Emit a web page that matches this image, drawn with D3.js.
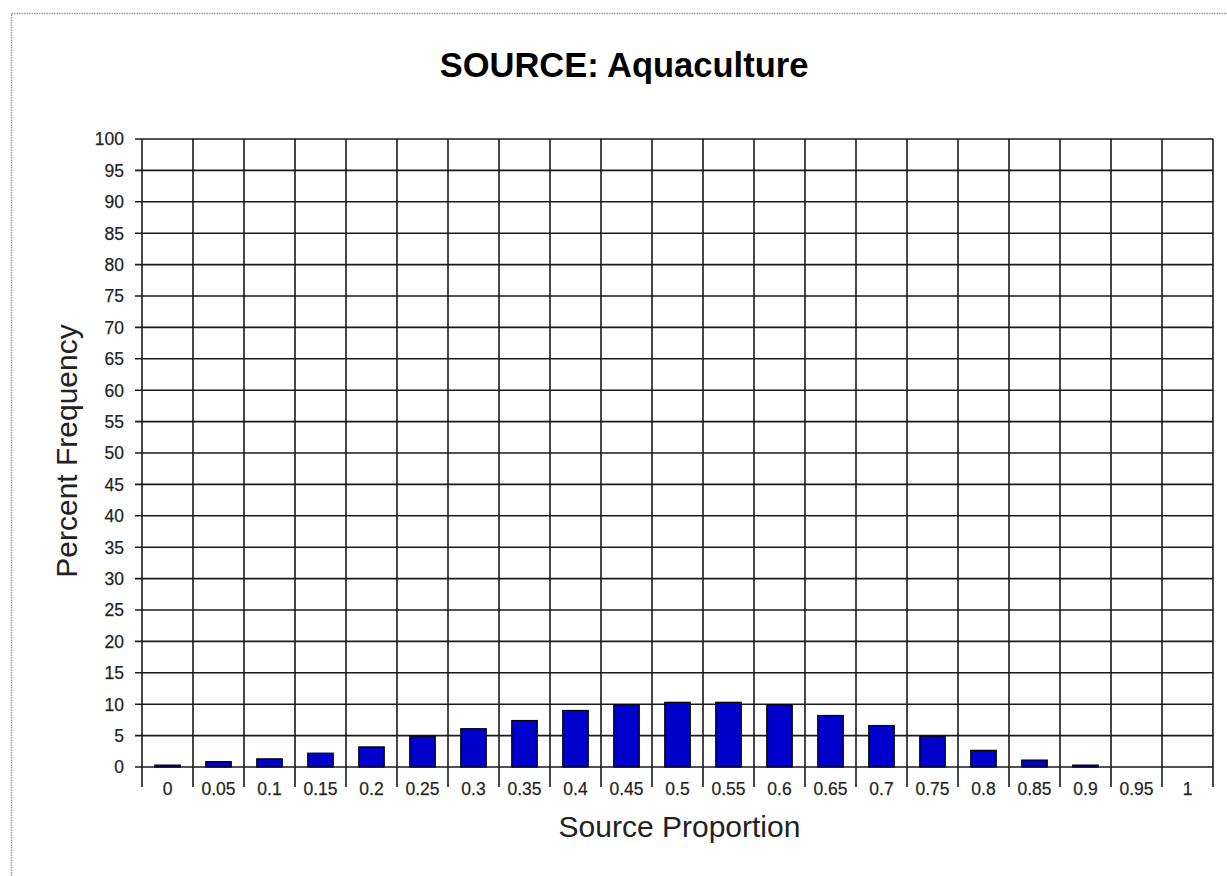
<!DOCTYPE html>
<html lang="en">
<head>
    <meta charset="UTF-8">
    <title>SOURCE: Aquaculture</title>
    <script src="https://d3js.org/d3.v7.min.js"></script>
    <style>
        body { margin: 0; background: #fff; }
        text { font-family: Arial, "Liberation Sans", sans-serif; fill: #222; }
        .tick-label { font-size: 17.5px; stroke: #333; stroke-width: 0.25px; }
        .grid line { stroke: #1a1a1a; stroke-width: 1.6px; }
        .bar { fill: #0000cc; stroke: #000; stroke-width: 1.2px; }
    </style>
</head>
<body>
    <div id="chart"></div>

    <script>
        // data
        const categories = ['0', '0.05', '0.1', '0.15', '0.2', '0.25', '0.3', '0.35', '0.4', '0.45', '0.5',
                            '0.55', '0.6', '0.65', '0.7', '0.75', '0.8', '0.85', '0.9', '0.95', '1'];
        const percentFreq = [0.3, 0.85, 1.3, 2.2, 3.2, 4.9, 6.1, 7.4, 9.0, 9.9, 10.3,
                             10.3, 9.9, 8.2, 6.6, 4.9, 2.65, 1.1, 0.3, 0, 0];
        const yTicks = d3.range(0, 101, 5);

        const width = 1227, height = 876;
        const plot = { left: 142, right: 1213, top: 139, bottom: 767 };

        const svg = d3.select('#chart')
                      .append('svg')
                      .attr('width', width)
                      .attr('height', height);

        // dotted outer chart border
        svg.append('rect')
           .attr('x', 11.5).attr('y', 13.5)
           .attr('width', 1240).attr('height', 900)
           .attr('fill', 'none')
           .attr('stroke', '#999')
           .attr('stroke-width', 1.5)
           .attr('stroke-dasharray', '1.5,1');

        const x = d3.scaleBand()
                    .domain(categories)
                    .range([plot.left, plot.right])
                    .padding(0);

        const y = d3.scaleLinear()
                    .domain([0, 100])
                    .range([plot.bottom, plot.top]);

        const grid = svg.append('g').attr('class', 'grid');

        // horizontal gridlines with small outer ticks
        grid.selectAll('line.h')
            .data(yTicks)
            .enter().append('line')
            .attr('class', 'h')
            .attr('x1', plot.left - 7)
            .attr('x2', plot.right)
            .attr('y1', d => y(d))
            .attr('y2', d => y(d));

        // vertical lines at category boundaries, running below the axis as ticks
        const bounds = categories.map(c => x(c)).concat([x(categories[categories.length - 1]) + x.bandwidth()]);
        grid.selectAll('line.v')
            .data(bounds)
            .enter().append('line')
            .attr('class', 'v')
            .attr('x1', d => d)
            .attr('x2', d => d)
            .attr('y1', plot.top)
            .attr('y2', plot.bottom + 20);

        // bars
        const barW = x.bandwidth() * 0.5;
        svg.append('g')
           .selectAll('rect')
           .data(percentFreq)
           .enter().append('rect')
           .attr('class', 'bar')
           .attr('x', (d, i) => x(categories[i]) + (x.bandwidth() - barW) / 2)
           .attr('y', d => y(d))
           .attr('width', barW)
           .attr('height', d => y(0) - y(d));

        // y tick labels
        svg.append('g')
           .selectAll('text')
           .data(yTicks)
           .enter().append('text')
           .attr('class', 'tick-label')
           .attr('x', 124)
           .attr('y', d => y(d))
           .attr('dy', '0.36em')
           .attr('text-anchor', 'end')
           .text(d => d);

        // x tick labels
        svg.append('g')
           .selectAll('text')
           .data(categories)
           .enter().append('text')
           .attr('class', 'tick-label')
           .attr('x', d => x(d) + x.bandwidth() / 2)
           .attr('y', 795)
           .attr('text-anchor', 'middle')
           .text(d => d);

        // title and axis titles
        svg.append('text')
           .attr('x', 624)
           .attr('y', 77)
           .attr('text-anchor', 'middle')
           .style('font-size', '34.5px')
           .style('font-weight', 'bold')
           .style('fill', '#000')
           .text('SOURCE: Aquaculture');

        svg.append('text')
           .attr('x', (plot.left + plot.right) / 2 + 2)
           .attr('y', 837)
           .attr('text-anchor', 'middle')
           .style('font-size', '30px')
           .text('Source Proportion');

        svg.append('text')
           .attr('transform', 'translate(77,451) rotate(-90)')
           .attr('text-anchor', 'middle')
           .style('font-size', '30px')
           .text('Percent Frequency');
    </script>
</body>
</html>
